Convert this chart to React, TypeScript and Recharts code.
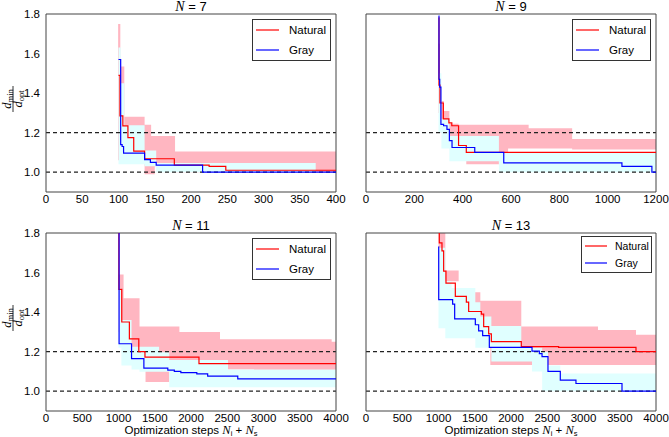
import React from "react";
import { ComposedChart, Line, Area, XAxis, YAxis, ReferenceLine, Legend } from "recharts";

type Step = [number, number];
type Band = [number, number, number];

const SANS = "'Liberation Sans', Arial, sans-serif";
const SERIF = "'Liberation Serif', 'DejaVu Serif', serif";

const Y_TICKS = [1.0, 1.2, 1.4, 1.6, 1.8];
const X_TICKS_N7 = [0, 50, 100, 150, 200, 250, 300, 350, 400];
const X_TICKS_N9 = [0, 200, 400, 600, 800, 1000, 1200];
const X_TICKS_LONG = [0, 500, 1000, 1500, 2000, 2500, 3000, 3500, 4000];
const SERIES = [
  { name: "Natural", color: "#ff0000" },
  { name: "Gray", color: "#0000ff" },
];

// N = 7
const N7_NATURAL: Step[] = [[100, 1.49], [102, 1.285], [106, 1.234], [113, 1.175], [121, 1.107], [136, 1.068], [177, 1.036], [225, 1.03], [248, 1.01], [400, 1.01]];
const N7_GRAY: Step[] = [[100, 1.57], [103, 1.14], [105, 1.13], [107, 1.097], [136, 1.064], [144, 1.05], [152, 1.036], [216, 1.0], [400, 1.0]];
const N7_NATURAL_BAND: Band[] = [[99.5, 1.06, 1.75], [102.5, 1.1, 1.534], [108, 1.1, 1.28], [136, 0.99, 1.24], [145, 0.99, 1.183], [150, 1.03, 1.183], [178, 1.0, 1.105], [400, 1.0, 1.105]];
const N7_GRAY_BAND: Band[] = [[100, 1.04, 1.63], [103, 1.04, 1.45], [108, 1.04, 1.237], [136, 1.03, 1.11], [152, 1.0, 1.047], [372, 1.0, 1.047]];

// N = 9
const N9_NATURAL: Step[] = [[300, 1.78], [302, 1.44], [306, 1.35], [320, 1.27], [343, 1.25], [355, 1.235], [383, 1.135], [415, 1.1], [1200, 1.1]];
const N9_GRAY: Step[] = [[300, 1.79], [302, 1.47], [305, 1.43], [310, 1.242], [321, 1.235], [335, 1.217], [345, 1.16], [356, 1.125], [450, 1.1], [570, 1.047], [1059, 1.03], [1183, 1.0], [1200, 1.0]];
const N9_NATURAL_BAND: Band[] = [[300, 1.3, 1.65], [306, 1.2, 1.36], [322, 1.16, 1.31], [345, 1.14, 1.245], [383, 1.1, 1.24], [415, 1.04, 1.24], [550, 1.1, 1.24], [588, 1.12, 1.24], [673, 1.12, 1.222], [853, 1.115, 1.168], [1200, 1.115, 1.168]];
const N9_GRAY_BAND: Band[] = [[300, 1.2, 1.5], [312, 1.12, 1.27], [345, 1.056, 1.183], [550, 1.0, 1.1], [1200, 1.0, 1.1]];

// N = 11
const N11_NATURAL: Step[] = [[1000, 1.85], [1005, 1.515], [1045, 1.35], [1150, 1.265], [1280, 1.2], [1365, 1.172], [2110, 1.14], [4000, 1.14]];
const N11_GRAY: Step[] = [[1000, 1.85], [1008, 1.24], [1180, 1.165], [1350, 1.117], [1680, 1.107], [1770, 1.1], [1860, 1.094], [2080, 1.088], [2230, 1.076], [2645, 1.062], [4000, 1.062]];
const N11_NATURAL_BAND: Band[] = [[1000, 1.3, 1.59], [1070, 1.2, 1.47], [1290, 1.15, 1.327], [1373, 1.047, 1.327], [1700, 1.15, 1.327], [1840, 1.15, 1.3], [2400, 1.15, 1.263], [2510, 1.11, 1.263], [2870, 1.08, 1.263], [3940, 1.08, 1.25], [4000, 1.08, 1.25]];
const N11_GRAY_BAND: Band[] = [[1000, 1.22, 1.52], [1040, 1.13, 1.36], [1180, 1.11, 1.225], [1290, 1.098, 1.225], [1560, 1.098, 1.197], [1700, 1.02, 1.158], [2510, 1.02, 1.11], [4000, 1.02, 1.11]];

// N = 13
const N13_NATURAL: Step[] = [[1000, 1.85], [1011, 1.75], [1048, 1.71], [1071, 1.607], [1103, 1.547], [1232, 1.48], [1384, 1.45], [1416, 1.403], [1591, 1.39], [1623, 1.327], [1692, 1.29], [1729, 1.251], [2142, 1.225], [2657, 1.222], [3724, 1.2], [4000, 1.2]];
const N13_GRAY: Step[] = [[1000, 1.73], [1003, 1.463], [1195, 1.44], [1223, 1.366], [1508, 1.336], [1554, 1.305], [1609, 1.281], [1701, 1.222], [2290, 1.203], [2391, 1.19], [2428, 1.175], [2510, 1.1], [2680, 1.056], [2896, 1.039], [3531, 1.0], [4000, 1.0]];
const N13_NATURAL_BAND: Band[] = [[1000, 1.57, 1.85], [1094, 1.556, 1.61], [1278, 1.35, 1.5], [1577, 1.25, 1.458], [1715, 1.132, 1.458], [2142, 1.132, 1.327], [3200, 1.132, 1.31], [3724, 1.132, 1.285], [4000, 1.132, 1.285]];
const N13_GRAY_BAND: Band[] = [[1000, 1.318, 1.725], [1094, 1.268, 1.556], [1180, 1.268, 1.522], [1508, 1.22, 1.45], [1577, 1.22, 1.378], [1729, 1.15, 1.33], [2142, 1.15, 1.22], [2290, 1.1, 1.22], [2430, 1.0, 1.2], [2510, 1.0, 1.13], [2680, 1.0, 1.09], [4000, 1.0, 1.09]];

const toLine = (s: Step[]) => s.map(([x, v]) => ({ x, v }));
const toBand = (b: Band[]) => b.map(([x, lo, hi]) => ({ x, range: [lo, hi] }));

const FracLabel = (props: any) => {
  const vb = props.viewBox;
  const cx = vb.x + 13;
  const cy = vb.y + vb.height / 2 - 4;
  return (
    <g transform={`translate(${cx},${cy}) rotate(-90)`} fill="#000">
      <text x={0} y={-2.5} textAnchor="middle" fontFamily={SERIF} fontSize={12.5}>
        <tspan fontStyle="italic">d</tspan>
        <tspan fontSize={8.5} dy={2}>min</tspan>
      </text>
      <line x1={-13} x2={13} y1={0} y2={0} stroke="#000" strokeWidth={0.8} />
      <text x={0} y={9} textAnchor="middle" fontFamily={SERIF} fontSize={12.5}>
        <tspan fontStyle="italic">d</tspan>
        <tspan fontSize={8.5} dy={2}>opt</tspan>
      </text>
    </g>
  );
};

const XLabel = (props: any) => {
  const vb = props.viewBox;
  return (
    <text x={vb.x + vb.width / 2} y={vb.y + 23} textAnchor="middle" fontSize={11.5} fontFamily={SANS} fill="#000">
      <tspan>Optimization steps </tspan>
      <tspan fontFamily={SERIF} fontStyle="italic" fontSize={12.5}>N</tspan>
      <tspan fontSize={7.5} dy={2}>i</tspan>
      <tspan dy={-2}> + </tspan>
      <tspan fontFamily={SERIF} fontStyle="italic" fontSize={12.5}>N</tspan>
      <tspan fontSize={7.5} dy={2}>s</tspan>
    </text>
  );
};

const legendContent = (small: boolean) => () => (
  <div
    style={{
      boxSizing: "border-box",
      width: small ? 71 : 79,
      height: small ? 37 : 42,
      border: "1px solid #333",
      background: "#fff",
      padding: "0 0 0 3px",
      fontFamily: SANS,
      fontSize: small ? 10.5 : 11.5,
    }}
  >
    {SERIES.map((s) => (
      <div key={s.name} style={{ display: "flex", alignItems: "center", height: small ? 17.5 : 20 }}>
        <svg width={small ? 22 : 23} height={4}>
          <line x1={0} x2={small ? 22 : 23} y1={2} y2={2} stroke={s.color} strokeWidth={1.6} strokeOpacity={0.75} />
        </svg>
        <span style={{ marginLeft: small ? 8 : 10 }}>{s.name}</span>
      </div>
    ))}
  </div>
);

interface PanelProps {
  n: string;
  natural: Step[];
  gray: Step[];
  naturalBand: Band[];
  grayBand: Band[];
  xTicks: number[];
  left: number;
  top: number;
  showY: boolean;
  showX: boolean;
  small?: boolean;
}

const CHART_W = 360;
const RIGHT_M = 24;

const Panel: React.FC<PanelProps> = ({ n, natural, gray, naturalBand, grayBand, xTicks, left, top, showY, showX, small }) => {
  const xMax = xTicks[xTicks.length - 1];
  const axisH = showX ? 30 : 24;
  const height = 14 + 178 + axisH;
  return (
    <div style={{ position: "absolute", left, top, width: CHART_W, height }}>
      <div
        style={{
          position: "absolute",
          left: 46,
          width: 290,
          top: 0,
          textAlign: "center",
          fontFamily: SANS,
          fontSize: 13,
          lineHeight: "13px",
        }}
      >
        <span style={{ fontFamily: SERIF, fontStyle: "italic", fontSize: 14 }}>N</span>
        <span> = {n}</span>
      </div>
      <ComposedChart width={CHART_W} height={height} margin={{ top: 14, right: RIGHT_M, bottom: 0, left: 0 }}>
        <XAxis
          type="number"
          dataKey="x"
          domain={[0, xMax]}
          ticks={xTicks}
          interval={0}
          allowDataOverflow
          height={axisH}
          tickSize={0}
          tickMargin={3}
          axisLine={{ stroke: "#444" }}
          tick={{ fontSize: 11.5, fontFamily: SANS, fill: "#000" }}
          label={showX ? { content: XLabel } : undefined}
        />
        <YAxis
          type="number"
          domain={[0.9, 1.8]}
          ticks={Y_TICKS}
          interval={0}
          allowDataOverflow
          width={46}
          tickSize={0}
          tickMargin={6}
          axisLine={{ stroke: "#444" }}
          tick={showY ? { fontSize: 11.5, fontFamily: SANS, fill: "#000" } : false}
          tickFormatter={(v: number) => v.toFixed(1)}
          label={showY ? { content: FracLabel } : undefined}
        />
        <Area data={toBand(naturalBand)} dataKey="range" type="stepAfter" fill="#ffb6c1" fillOpacity={1} stroke="none" dot={false} activeDot={false} isAnimationActive={false} />
        <Area data={toBand(grayBand)} dataKey="range" type="stepAfter" fill="#e0ffff" fillOpacity={1} stroke="none" dot={false} activeDot={false} isAnimationActive={false} />
        <ReferenceLine y={1.0} stroke="#222" strokeDasharray="4 3" strokeWidth={1.2} />
        <ReferenceLine y={1.2} stroke="#222" strokeDasharray="4 3" strokeWidth={1.2} />
        <ReferenceLine y={1.8} stroke="#444" />
        <ReferenceLine x={xMax} stroke="#444" />
        <Line data={toLine(natural)} dataKey="v" type="stepAfter" stroke={SERIES[0].color} strokeWidth={1.2} dot={false} activeDot={false} isAnimationActive={false} />
        <Line data={toLine(gray)} dataKey="v" type="stepAfter" stroke={SERIES[1].color} strokeWidth={1.2} dot={false} activeDot={false} isAnimationActive={false} />
        <Legend
          layout="horizontal"
          align="center"
          verticalAlign="middle"
          content={legendContent(!!small)}
          wrapperStyle={{
            top: small ? 17 : 19,
            right: RIGHT_M + (small ? 4 : 5),
            left: "auto",
            width: small ? 71 : 79,
            height: small ? 37 : 42,
          }}
        />
      </ComposedChart>
    </div>
  );
};

export default function App() {
  return (
    <div style={{ position: "absolute", left: 0, top: 0, width: 669, height: 437, background: "#fff", overflow: "hidden" }}>
      <Panel n="7" natural={N7_NATURAL} gray={N7_GRAY} naturalBand={N7_NATURAL_BAND} grayBand={N7_GRAY_BAND} xTicks={X_TICKS_N7} left={0} top={0} showY showX={false} />
      <Panel n="9" natural={N9_NATURAL} gray={N9_GRAY} naturalBand={N9_NATURAL_BAND} grayBand={N9_GRAY_BAND} xTicks={X_TICKS_N9} left={320} top={0} showY={false} showX={false} />
      <Panel n="11" natural={N11_NATURAL} gray={N11_GRAY} naturalBand={N11_NATURAL_BAND} grayBand={N11_GRAY_BAND} xTicks={X_TICKS_LONG} left={0} top={219} showY showX />
      <Panel n="13" natural={N13_NATURAL} gray={N13_GRAY} naturalBand={N13_NATURAL_BAND} grayBand={N13_GRAY_BAND} xTicks={X_TICKS_LONG} left={320} top={219} showY={false} showX small />
    </div>
  );
}
